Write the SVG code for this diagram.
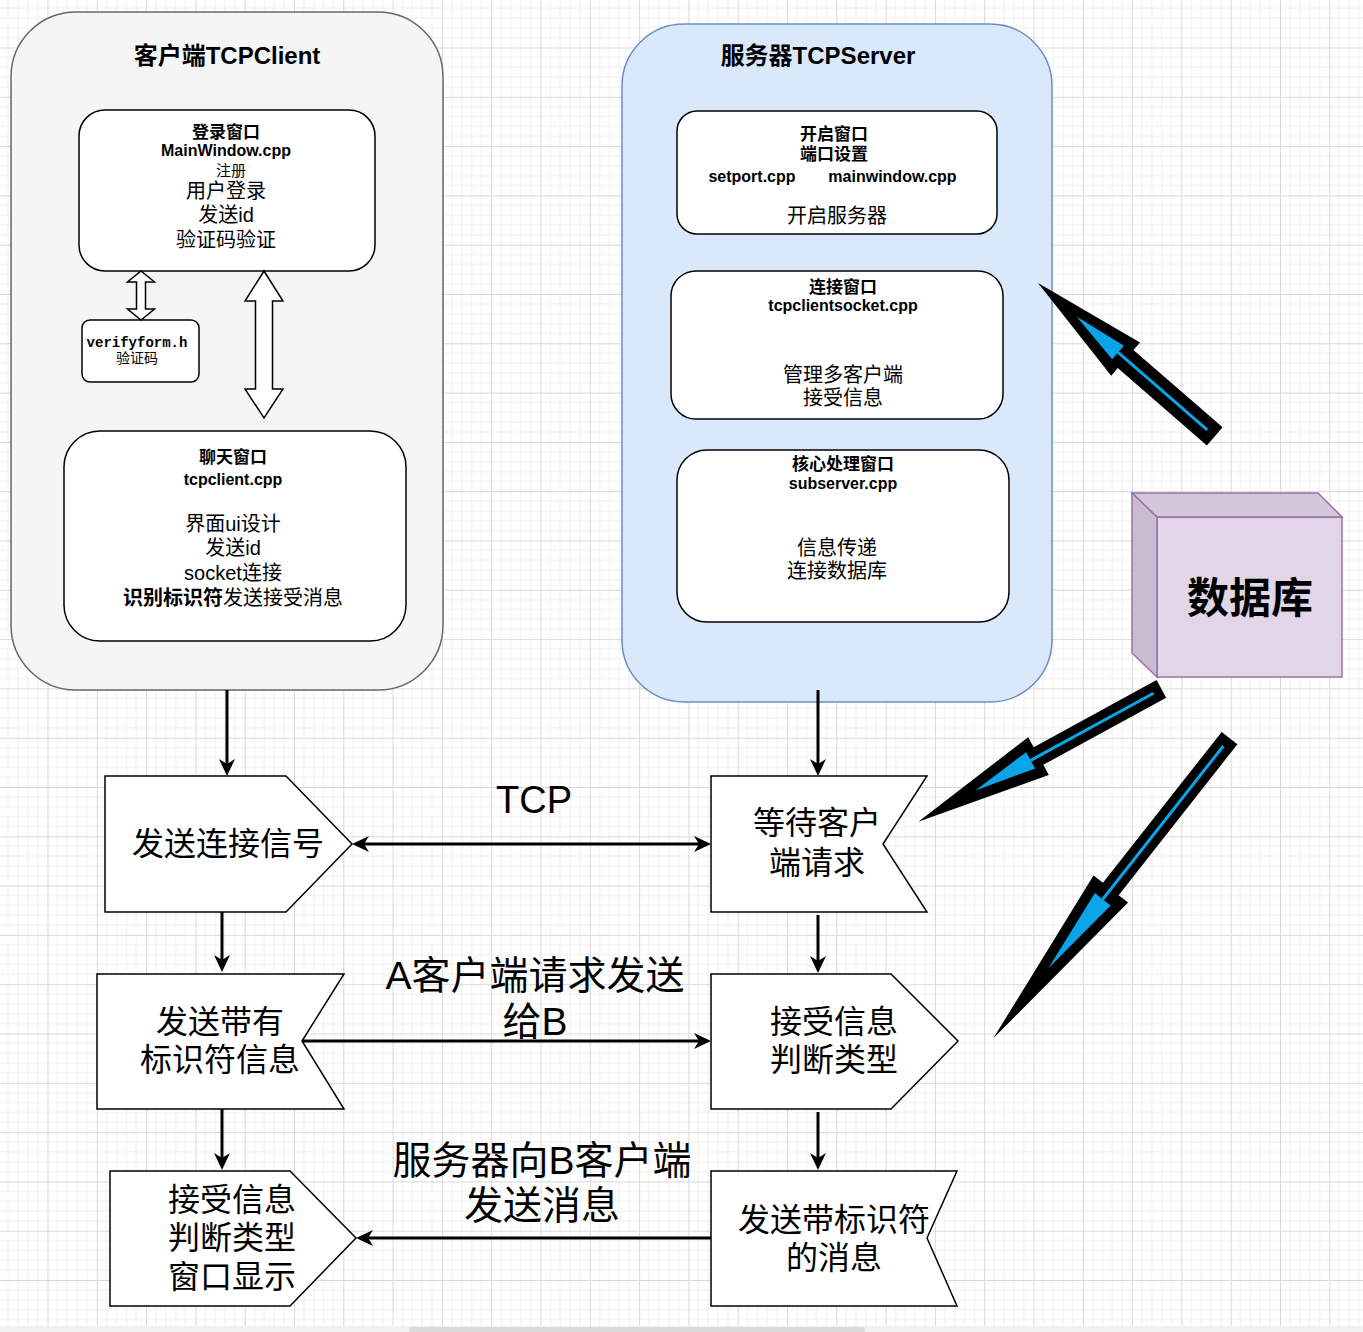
<svg xmlns="http://www.w3.org/2000/svg" width="1363" height="1332" viewBox="0 0 1363 1332">
<style>
.t{font-family:"Liberation Sans","Noto Sans CJK SC",sans-serif;fill:#000;text-anchor:middle;dominant-baseline:central}
.b{font-weight:bold}
.f16{font-size:16px}.f17{font-size:17px}.f20{font-size:20px}.f24{font-size:24px}.f32{font-size:32px}.f39{font-size:39px}
.mono{font-family:"Liberation Mono","Noto Sans CJK SC",monospace;font-size:14px}
.inner{fill:#fff;stroke:#000;stroke-width:1.5}
.flow{fill:#fff;stroke:#000;stroke-width:1.5}
.hollow{fill:#fff;stroke:#000;stroke-width:1.5;stroke-linejoin:miter}
.conn{fill:none;stroke:#000;stroke-width:3}
.blk{fill:#000}
.blu{fill:#0aa5e9}
.bline{stroke:#0aa5e9;stroke-width:3}
</style>
<defs>
<pattern id="grid" patternUnits="userSpaceOnUse" x="-1.8" y="-1.8" width="49.3" height="49.3">
<path d="M9.86 0V49.3M19.72 0V49.3M29.58 0V49.3M39.44 0V49.3M0 9.86H49.3M0 19.72H49.3M0 29.58H49.3M0 39.44H49.3" stroke="#efefef" stroke-width="1" fill="none"/>
<path d="M0.5 0V49.3M0 0.5H49.3" stroke="#d9d9d9" stroke-width="1" fill="none"/>
</pattern>
<marker id="ah" markerUnits="userSpaceOnUse" markerWidth="18" markerHeight="16" refX="7" refY="8" orient="auto-start-reverse">
<path d="M0,0 L17,8 L0,16 L5,8 Z" fill="#000"/>
</marker>
</defs>
<rect width="1363" height="1332" fill="#fff"/>
<rect width="1363" height="1332" fill="url(#grid)"/>

<g id="client">
<rect x="11" y="12" width="432" height="678" rx="65" ry="65" fill="#f5f5f5" stroke="#666" stroke-width="1.5"/>
<text class="t b f24" x="227" y="55">客户端TCPClient</text>
</g>
<g id="login">
<rect class="inner" x="79" y="110" width="296" height="161" rx="26"/>
<text class="t b f17" x="226" y="132">登录窗口</text>
<text class="t b f16" x="226" y="150">MainWindow.cpp</text>
<text class="t" x="231" y="170" style="font-size:15px">注册</text>
<text class="t f20" x="226" y="191">用户登录</text>
<text class="t f20" x="226" y="215">发送id</text>
<text class="t f20" x="226" y="240">验证码验证</text>
</g>
<g id="verify">
<rect class="inner" x="82" y="320" width="117" height="62" rx="8"/>
<text class="t mono b" x="137" y="343">verifyform.h</text>
<text class="t mono" x="137" y="359">验证码</text>
</g>
<g id="chat">
<rect class="inner" x="64" y="431" width="342" height="210" rx="36"/>
<text class="t b f17" x="233" y="457">聊天窗口</text>
<text class="t b f16" x="233" y="479">tcpclient.cpp</text>
<text class="t f20" x="233" y="524">界面ui设计</text>
<text class="t f20" x="233" y="548">发送id</text>
<text class="t f20" x="233" y="573">socket连接</text>
<text class="t f20" x="233" y="598"><tspan class="b">识别标识符</tspan>发送接受消息</text>
</g>
<g id="hollow-arrows">
<polygon class="hollow" points="141,271 154.5,282 145.5,282 145.5,309 154.5,309 141,320 127.5,309 136.5,309 136.5,282 127.5,282"/>
<polygon class="hollow" points="264,271 283,301 272.5,301 272.5,389 283,389 264,418 245,389 255.5,389 255.5,301 245,301"/>
</g>

<g id="server">
<rect x="622" y="24" width="430" height="678" rx="62" ry="62" fill="#dae8fc" stroke="#6c8ebf" stroke-width="1.5"/>
<text class="t b f24" x="818" y="55">服务器TCPServer</text>
</g>
<g id="open">
<rect class="inner" x="677" y="111" width="320" height="123" rx="20"/>
<text class="t b f17" x="834" y="134">开启窗口</text>
<text class="t b f17" x="834" y="154">端口设置</text>
<text class="t b f16" x="752" y="176">setport.cpp</text>
<text class="t b f16" x="892.5" y="176">mainwindow.cpp</text>
<text class="t f20" x="837" y="216">开启服务器</text>
</g>
<g id="connect">
<rect class="inner" x="671" y="271" width="332" height="148" rx="25"/>
<text class="t b f17" x="843" y="287">连接窗口</text>
<text class="t b f16" x="843" y="305">tcpclientsocket.cpp</text>
<text class="t f20" x="843" y="375">管理多客户端</text>
<text class="t f20" x="843" y="398">接受信息</text>
</g>
<g id="core">
<rect class="inner" x="677" y="450" width="332" height="172" rx="30"/>
<text class="t b f17" x="843" y="464">核心处理窗口</text>
<text class="t b f16" x="843" y="483">subserver.cpp</text>
<text class="t f20" x="837" y="548">信息传递</text>
<text class="t f20" x="837" y="571">连接数据库</text>
</g>

<g id="database">
<polygon points="1157,517 1342,517 1342,677 1157,677" fill="#e1d5e7" stroke="#9673a6" stroke-width="1.5"/>
<polygon points="1132,493 1318,493 1342,517 1157,517" fill="#d5c6dc" stroke="#9673a6" stroke-width="1.5"/>
<polygon points="1132,493 1157,517 1157,677 1132,653" fill="#c9bcd0" stroke="#9673a6" stroke-width="1.5"/>
<text class="t b" x="1250" y="598" style="font-size:42px">数据库</text>
</g>

<g id="flow-send-connect">
<polygon class="flow" points="105,776 286,776 352,844 286,912 105,912"/>
<text class="t f32" x="228" y="844">发送连接信号</text>
</g>
<g id="flow-send-id">
<polygon class="flow" points="97,974 344,974 302,1041 344,1109 97,1109"/>
<text class="t f32" x="220" y="1022">发送带有</text>
<text class="t f32" x="220" y="1060">标识符信息</text>
</g>
<g id="flow-client-recv">
<polygon class="flow" points="110,1171 290,1171 356,1238 290,1306 110,1306"/>
<text class="t f32" x="232" y="1200">接受信息</text>
<text class="t f32" x="232" y="1238">判断类型</text>
<text class="t f32" x="232" y="1277">窗口显示</text>
</g>
<g id="flow-wait">
<polygon class="flow" points="711,776 927,776 883,844 927,912 711,912"/>
<text class="t f32" x="817" y="823">等待客户</text>
<text class="t f32" x="817" y="863">端请求</text>
</g>
<g id="flow-server-recv">
<polygon class="flow" points="711,974 891,974 958,1041 891,1109 711,1109"/>
<text class="t f32" x="834" y="1022">接受信息</text>
<text class="t f32" x="834" y="1060">判断类型</text>
</g>
<g id="flow-server-send">
<polygon class="flow" points="711,1171 957,1171 927,1238 957,1306 711,1306"/>
<text class="t f32" x="834" y="1220">发送带标识符</text>
<text class="t f32" x="834" y="1258">的消息</text>
</g>

<g id="connectors">
<line class="conn" x1="227" y1="690" x2="227" y2="766" marker-end="url(#ah)"/>
<line class="conn" x1="818" y1="690" x2="818" y2="766" marker-end="url(#ah)"/>
<line class="conn" x1="222" y1="912" x2="222" y2="962" marker-end="url(#ah)"/>
<line class="conn" x1="818" y1="915" x2="818" y2="963" marker-end="url(#ah)"/>
<line class="conn" x1="222" y1="1109" x2="222" y2="1160" marker-end="url(#ah)"/>
<line class="conn" x1="818" y1="1112" x2="818" y2="1160" marker-end="url(#ah)"/>
<line class="conn" x1="362" y1="844" x2="701" y2="844" marker-start="url(#ah)" marker-end="url(#ah)"/>
<line class="conn" x1="302" y1="1041" x2="701" y2="1041" marker-end="url(#ah)"/>
<line class="conn" x1="711" y1="1238" x2="366" y2="1238" marker-end="url(#ah)"/>
<text class="t" x="534" y="800" style="font-size:38px">TCP</text>
<text class="t f39" x="535" y="975">A客户端请求发送</text>
<text class="t f39" x="535" y="1021">给B</text>
<text class="t f39" x="542" y="1160">服务器向B客户端</text>
<text class="t f39" x="542" y="1205">发送消息</text>

<g id="db-to-server" transform="translate(1038,283) rotate(-139.05)">
<polygon class="blk" points="0,0 -116,-22 -116,-12 -234,-12 -234,12 -116,12 -116,22"/>
<polygon class="blu" points="-51,0 -106,-9 -106,9"/>
<line class="bline" x1="-106" y1="0" x2="-224" y2="0"/>
</g>
<g id="db-to-wait" transform="translate(918.3,821.7) rotate(151.35)">
<polygon class="blk" points="0,0 -137,-21.5 -137,-10 -277,-10 -277,10 -137,10 -137,21.5"/>
<polygon class="blu" points="-65,0 -128,-9.3 -128,9.3"/>
<line class="bline" x1="-128" y1="0" x2="-268" y2="0"/>
</g>
<g id="db-to-recv" transform="translate(993.3,1038.3) rotate(128.2)">
<polygon class="blk" points="0,0 -190,-22 -190,-10 -382,-10 -382,10 -190,10 -190,22"/>
<polygon class="blu" points="-89,0 -177,-10 -177,10"/>
<line class="bline" x1="-177" y1="0" x2="-372" y2="0"/>
</g>
</g>

<rect x="0" y="1326" width="1363" height="6" fill="#f1f1f1"/>
<rect x="409" y="1327" width="456" height="5" rx="2" fill="#dadada"/>
</svg>
